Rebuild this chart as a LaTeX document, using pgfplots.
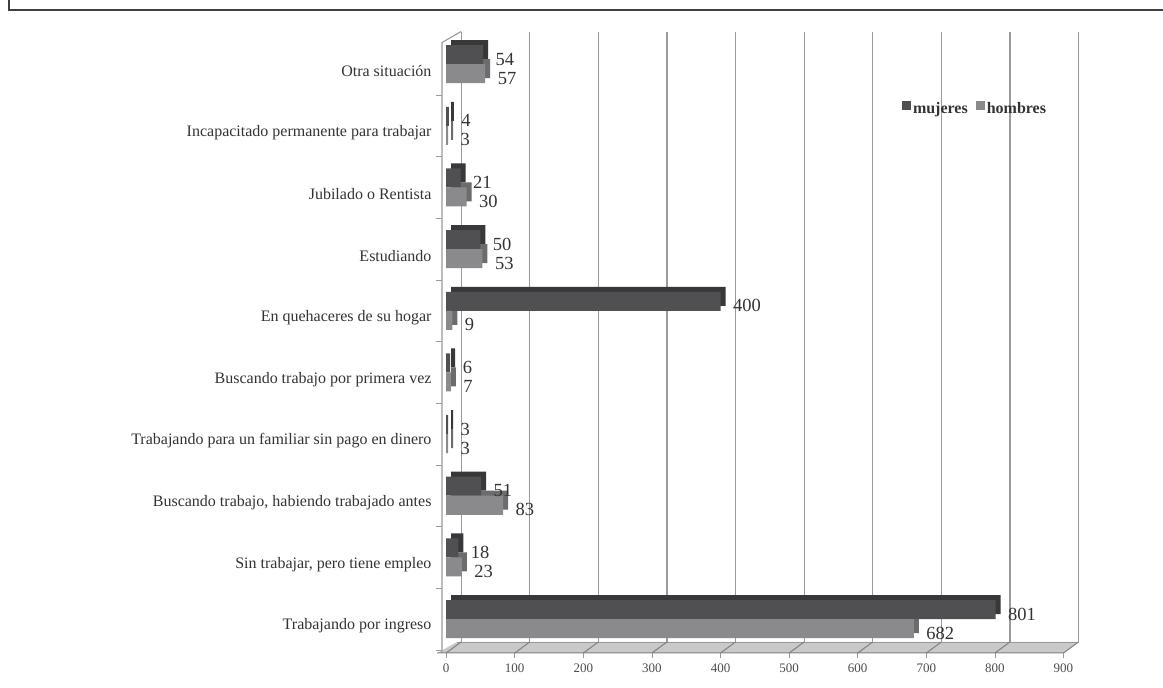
\documentclass[border=0pt]{standalone}
\usepackage{fontspec}
\setmainfont{Liberation Serif}
\usepackage{pgfplots}
\pgfplotsset{compat=1.18}
\definecolor{muj}{HTML}{505052}
\definecolor{mujd}{HTML}{38383A}
\definecolor{hom}{HTML}{8A8A8C}
\definecolor{homd}{HTML}{6C6C6E}
\definecolor{gridc}{HTML}{9A9A9A}
\definecolor{floorl}{HTML}{808080}
\definecolor{floorc}{HTML}{C9C9C9}
\definecolor{txt}{HTML}{333333}
\begin{document}
\begin{tikzpicture}[x=1pt,y=1pt]
\useasboundingbox (0,0) rectangle (1163,688);
\draw[line width=1.6pt, color=black!75] (9,688) -- (9,678) -- (1163,678);
\begin{axis}[
  at={(442pt,35pt)}, anchor=south west,
  scale only axis, width=621.5pt, height=610.5pt,
  xmin=-6, xmax=900, ymin=-0.55, ymax=9.35,
  clip=false,
  axis line style={draw=none},
  /pgf/number format/assume math mode=true,
  xtick={0,100,...,900}, xtick pos=left, ytick pos=left,
  tick align=outside,
  major tick length=5pt,
  every major x tick/.style={gridc, line width=0.8pt},
  xticklabel style={font=\fontsize{13}{15}\selectfont, text=black!70, yshift=-2pt},
  xmajorgrids,
  major grid style={gridc, line width=1.2pt, shift={(15pt,11pt)}},
  ytick={0,...,9},
  yticklabels={{Trabajando por ingreso},{Sin trabajar, pero tiene empleo},{Buscando trabajo, habiendo trabajado antes},{Trabajando para un familiar sin pago en dinero},{Buscando trabajo por primera vez},{En quehaceres de su hogar},{Estudiando},{Jubilado o Rentista},{Incapacitado permanente para trabajar},{Otra situación}},
  every major y tick/.style={draw=none},
  minor ytick={-0.5,0.5,...,9.5},
  every minor y tick/.style={gridc, line width=0.8pt},
  minor tick length=6pt,
  yticklabel style={font=\fontsize{16}{18}\selectfont, text=txt, yshift=-7pt, xshift=-2pt},
  xbar, bar width=19pt,
  legend columns=2,
  legend style={at={(0.735,0.891)}, anchor=west, draw=none, fill=none,
    font=\bfseries\fontsize{16}{18}\selectfont, text=txt,
    /tikz/every even column/.append style={column sep=6pt}},
  nodes near coords,
  every node near coord/.append style={anchor=west, font=\fontsize{18.5}{21}\selectfont, text=txt, xshift=9pt, yshift=-4.5pt},
]
% floor
\fill[floorc] (axis cs:-13,-0.55) -- (axis cs:900,-0.55) -- ([shift={(15pt,11pt)}]axis cs:900,-0.55) -- ([shift={(15pt,11pt)}]axis cs:-6,-0.55) -- cycle;
\draw[gridc, line width=0.8pt] ([shift={(15pt,11pt)}]axis cs:-6,-0.55) -- ([shift={(15pt,11pt)}]axis cs:900,-0.55);
\draw[floorl, line width=1pt] (axis cs:-13,-0.55) -- (axis cs:900,-0.55) -- ([shift={(15pt,11pt)}]axis cs:900,-0.55);
\draw[floorl, line width=1pt] (axis cs:0,-0.55) -- ([shift={(15pt,11pt)}]axis cs:0,-0.55);
\draw[floorl, line width=1pt] (axis cs:100,-0.55) -- ([shift={(15pt,11pt)}]axis cs:100,-0.55);
\draw[floorl, line width=1pt] (axis cs:200,-0.55) -- ([shift={(15pt,11pt)}]axis cs:200,-0.55);
\draw[floorl, line width=1pt] (axis cs:300,-0.55) -- ([shift={(15pt,11pt)}]axis cs:300,-0.55);
\draw[floorl, line width=1pt] (axis cs:400,-0.55) -- ([shift={(15pt,11pt)}]axis cs:400,-0.55);
\draw[floorl, line width=1pt] (axis cs:500,-0.55) -- ([shift={(15pt,11pt)}]axis cs:500,-0.55);
\draw[floorl, line width=1pt] (axis cs:600,-0.55) -- ([shift={(15pt,11pt)}]axis cs:600,-0.55);
\draw[floorl, line width=1pt] (axis cs:700,-0.55) -- ([shift={(15pt,11pt)}]axis cs:700,-0.55);
\draw[floorl, line width=1pt] (axis cs:800,-0.55) -- ([shift={(15pt,11pt)}]axis cs:800,-0.55);
% left wall
\draw[gridc, line width=1.1pt] (axis cs:-6,-0.55) -- (axis cs:-6,9.35) -- ([shift={(15pt,11pt)}]axis cs:0,9.35);
% depth (back copies)
\addplot[xbar, bar shift=14.5pt, xshift=5pt, fill=mujd, draw=none, forget plot, nodes near coords={}] coordinates {
(801,0) (18,1) (51,2) (3,3) (6,4) (400,5) (50,6) (21,7) (4,8) (54,9)};
\addplot[xbar, bar shift=-4.5pt, xshift=5pt, fill=homd, draw=none, forget plot, nodes near coords={}] coordinates {
(682,0) (23,1) (83,2) (3,3) (7,4) (9,5) (53,6) (30,7) (3,8) (57,9)};
% front faces
\addplot[xbar, bar shift=9.5pt, fill=muj, draw=none,
  legend image code/.code={\fill[muj] (0pt,-1pt) rectangle (9pt,8pt);}] coordinates {
(801,0) (18,1) (51,2) (3,3) (6,4) (400,5) (50,6) (21,7) (4,8) (54,9)};
\addplot[xbar, bar shift=-9.5pt, fill=hom, draw=none,
  legend image code/.code={\fill[hom] (0pt,-1pt) rectangle (9pt,8pt);}] coordinates {
(682,0) (23,1) (83,2) (3,3) (7,4) (9,5) (53,6) (30,7) (3,8) (57,9)};
\legend{mujeres,hombres}
\end{axis}
\end{tikzpicture}
\end{document}
